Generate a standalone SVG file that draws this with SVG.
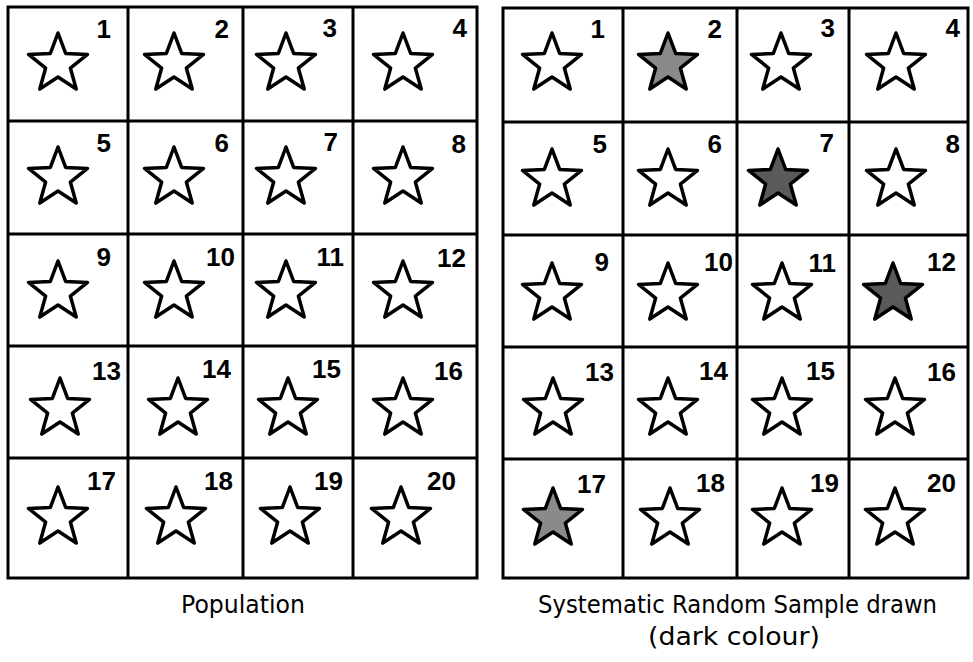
<svg xmlns="http://www.w3.org/2000/svg" xmlns:xlink="http://www.w3.org/1999/xlink" width="973" height="662" viewBox="0 0 973 662">
<style>
.bg{fill:#ffffff}
.grid{stroke:#000;stroke-width:3;fill:none;stroke-linecap:square}
.star{fill:#ffffff;stroke:#000;stroke-width:3.5;stroke-linejoin:round}
.num{font-family:"Liberation Sans",Arial,sans-serif;font-weight:bold;font-size:26px;fill:#000;text-anchor:end}
.cap{font-family:"DejaVu Sans","Liberation Sans",sans-serif;font-size:24px;fill:#000}
.d1{fill:#8a8a8a}
.d2{fill:#5a5a5a}
</style>
<defs>
<path id="st" d="M0,-31 L7.64,-10.52 L29.48,-9.58 L12.36,4.02 L18.22,25.08 L0,13 L-18.22,25.08 L-12.36,4.02 L-29.48,-9.58 L-7.64,-10.52 Z"/>
</defs>
<rect class="bg" x="0" y="0" width="973" height="662"/>
<g id="connectors"></g>
<g id="population-grid">
<path class="grid" d="M8,7 H477 V578 H8 Z M128,7 V578 M243,7 V578 M353,7 V578 M8,121 H477 M8,234 H477 M8,346 H477 M8,458 H477"/>
<g id="p1"><use href="#st" class="star" x="58" y="64"/><text class="num" x="111" y="38">1</text></g>
<g id="p2"><use href="#st" class="star" x="174" y="64"/><text class="num" x="229" y="38">2</text></g>
<g id="p3"><use href="#st" class="star" x="286" y="64"/><text class="num" x="337" y="37">3</text></g>
<g id="p4"><use href="#st" class="star" x="403" y="64"/><text class="num" x="467" y="37">4</text></g>
<g id="p5"><use href="#st" class="star" x="58" y="178"/><text class="num" x="111" y="152">5</text></g>
<g id="p6"><use href="#st" class="star" x="174" y="178"/><text class="num" x="229" y="152">6</text></g>
<g id="p7"><use href="#st" class="star" x="286" y="178"/><text class="num" x="338" y="151">7</text></g>
<g id="p8"><use href="#st" class="star" x="403" y="178"/><text class="num" x="466" y="153">8</text></g>
<g id="p9"><use href="#st" class="star" x="58" y="292"/><text class="num" x="111" y="266">9</text></g>
<g id="p10"><use href="#st" class="star" x="174" y="292"/><text class="num" x="235" y="266">10</text></g>
<g id="p11"><use href="#st" class="star" x="286" y="292"/><text class="num" x="344" y="266">11</text></g>
<g id="p12"><use href="#st" class="star" x="403" y="292"/><text class="num" x="466" y="267">12</text></g>
<g id="p13"><use href="#st" class="star" x="60" y="409"/><text class="num" x="121" y="380">13</text></g>
<g id="p14"><use href="#st" class="star" x="178" y="409"/><text class="num" x="231" y="378">14</text></g>
<g id="p15"><use href="#st" class="star" x="288" y="409"/><text class="num" x="341" y="378">15</text></g>
<g id="p16"><use href="#st" class="star" x="403" y="409"/><text class="num" x="463" y="380">16</text></g>
<g id="p17"><use href="#st" class="star" x="58" y="518"/><text class="num" x="116" y="490">17</text></g>
<g id="p18"><use href="#st" class="star" x="176" y="518"/><text class="num" x="233" y="490">18</text></g>
<g id="p19"><use href="#st" class="star" x="290" y="518"/><text class="num" x="343" y="490">19</text></g>
<g id="p20"><use href="#st" class="star" x="401" y="518"/><text class="num" x="456" y="490">20</text></g>
</g>
<g id="sample-grid">
<path class="grid" d="M503,8 H968 V578 H503 Z M623,8 V578 M737,8 V578 M849,8 V578 M503,122 H968 M503,235 H968 M503,347 H968 M503,459 H968"/>
<g id="s1"><use href="#st" class="star" x="552" y="64"/><text class="num" x="605" y="38">1</text></g>
<g id="s2"><use href="#st" class="star d1" x="668" y="64"/><text class="num" x="722" y="38">2</text></g>
<g id="s3"><use href="#st" class="star" x="781" y="64"/><text class="num" x="835" y="37">3</text></g>
<g id="s4"><use href="#st" class="star" x="896" y="64"/><text class="num" x="960" y="37">4</text></g>
<g id="s5"><use href="#st" class="star" x="552" y="180"/><text class="num" x="607" y="153">5</text></g>
<g id="s6"><use href="#st" class="star" x="668" y="180"/><text class="num" x="722" y="153">6</text></g>
<g id="s7"><use href="#st" class="star d2" x="778" y="180"/><text class="num" x="834" y="152">7</text></g>
<g id="s8"><use href="#st" class="star" x="896" y="180"/><text class="num" x="960" y="153">8</text></g>
<g id="s9"><use href="#st" class="star" x="552" y="294"/><text class="num" x="609" y="271">9</text></g>
<g id="s10"><use href="#st" class="star" x="668" y="294"/><text class="num" x="733" y="271">10</text></g>
<g id="s11"><use href="#st" class="star" x="782" y="294"/><text class="num" x="836" y="272">11</text></g>
<g id="s12"><use href="#st" class="star d2" x="893" y="294"/><text class="num" x="956" y="271">12</text></g>
<g id="s13"><use href="#st" class="star" x="553" y="409"/><text class="num" x="614" y="381">13</text></g>
<g id="s14"><use href="#st" class="star" x="668" y="409"/><text class="num" x="728" y="380">14</text></g>
<g id="s15"><use href="#st" class="star" x="782" y="409"/><text class="num" x="835" y="380">15</text></g>
<g id="s16"><use href="#st" class="star" x="895" y="409"/><text class="num" x="956" y="381">16</text></g>
<g id="s17"><use href="#st" class="star d1" x="553" y="519"/><text class="num" x="606" y="493">17</text></g>
<g id="s18"><use href="#st" class="star" x="670" y="519"/><text class="num" x="725" y="492">18</text></g>
<g id="s19"><use href="#st" class="star" x="782" y="519"/><text class="num" x="839" y="492">19</text></g>
<g id="s20"><use href="#st" class="star" x="895" y="519"/><text class="num" x="956" y="492">20</text></g>
</g>
<g id="captions">
<text class="cap" x="181" y="613" textLength="124" lengthAdjust="spacingAndGlyphs">Population</text>
<text class="cap" x="538" y="613" textLength="399" lengthAdjust="spacingAndGlyphs">Systematic Random Sample drawn</text>
<text class="cap" x="648" y="645" textLength="172" lengthAdjust="spacingAndGlyphs">(dark colour)</text>
</g>
</svg>
